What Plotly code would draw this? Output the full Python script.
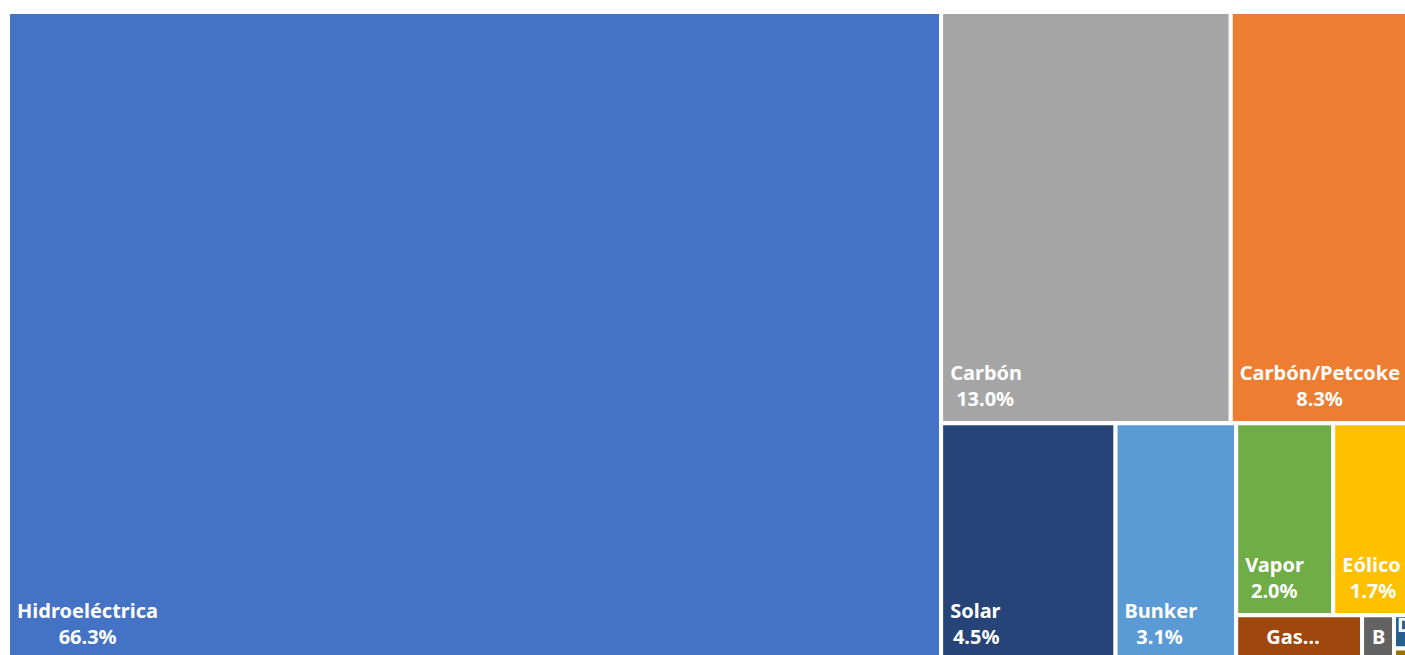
import math
import plotly.graph_objects as go

# ---- data ----
labels = ["Hidroeléctrica", "Carbón", "Carbón/Petcoke", "Solar", "Bunker", "Vapor", "Eólico",
          "Gas Natural", "Biomasa", "Diésel", "Biogás"]
values = [66.3, 13.04, 8.34, 4.54, 3.14, 2.04, 1.74, 0.63, 0.16, 0.08, 0.03]
display = ["Hidroeléctrica", "Carbón", "Carbón/Petcoke", "Solar", "Bunker", "Vapor", "Eólico",
           "Gas…", "B", "D", ""]
show_pct = [True, True, True, True, True, True, True, False, False, False, False]
colors = ["#4472C4", "#A5A5A5", "#ED7D31", "#264478", "#5B9BD5", "#70AD47", "#FFC000",
          "#9E480E", "#636363", "#255E91", "#997300"]
# layout groups (rows/columns of the Excel-style treemap)
leaf_parent = ["", "g_top", "g_top", "g_bottom", "g_bottom", "g_small_top", "g_small_top",
               "g_small_bottom", "g_small_bottom", "g_do", "g_do"]
group_ids = ["g_rest", "g_top", "g_bottom", "g_small", "g_small_top", "g_small_bottom", "g_do"]
group_parent = ["", "g_rest", "g_rest", "g_bottom", "g_small", "g_small", "g_small_bottom"]

# ---- styling ----
FS = 20
LEFT_PAD = 6          # extra px from the tile edge
DESC = 47             # size of trailing spacer that lifts the label off the tile bottom
extra_indent = [0, 0, 0, 0, 0, 0, 0, 21, 1, -6, 0]


def text_width(s):
    w = 0.0
    for ch in s:
        if ch in "0123456789":
            w += 0.572
        elif ch == "%":
            w += 0.88
        elif ch == ".":
            w += 0.29
        elif ch in "il":
            w += 0.30
        elif ch in "rt":
            w += 0.43
        elif ch == "/":
            w += 0.39
        elif ch.isupper():
            w += 0.66
        else:
            w += 0.60
    return w * FS


def spacer(px):
    if px <= 0.5:
        return ""
    k = max(1, math.ceil(px / (0.26 * 28)))
    size = px / (k * 0.26)
    return f"<span style='font-size:{size:.2f}px'>" + "\u00a0" * k + "</span>"


tail = f"<span style='font-size:{DESC}px'>\u00a0</span>"
texts = []
for d, v, sp, ex in zip(display, values, show_pct, extra_indent):
    if not d:
        texts.append("")
        continue
    lines = [d] + ([f"{v:.1f}%"] if sp else [])
    wmax = max(text_width(t) for t in lines)
    out = []
    for t in lines:
        off = LEFT_PAD + ex + (wmax - text_width(t)) / 2
        out.append(spacer(off) + t)
    texts.append("<br>".join(out) + tail)

order_ids = ["Hidroeléctrica", "g_rest", "g_top", "Carbón", "Carbón/Petcoke", "g_bottom",
             "Solar", "Bunker", "g_small", "g_small_top", "Vapor", "Eólico",
             "g_small_bottom", "Gas Natural", "Biomasa", "g_do", "Diésel", "Biogás"]

info = {}
for i, l in enumerate(labels):
    info[l] = dict(parent=leaf_parent[i], value=values[i], text=texts[i], color=colors[i], lw=4)
for g, p in zip(group_ids, group_parent):
    info[g] = dict(parent=p, value=0, text="", color="white", lw=0)

ids = order_ids
fig = go.Figure(go.Treemap(
    ids=ids,
    labels=[i if i in labels else "" for i in ids],
    parents=[info[i]["parent"] for i in ids],
    values=[info[i]["value"] for i in ids],
    text=[info[i]["text"] for i in ids],
    texttemplate="%{text}",
    textposition="bottom left",
    branchvalues="remainder",
    sort=False,
    marker=dict(colors=[info[i]["color"] for i in ids],
                line=dict(color="white", width=[info[i]["lw"] for i in ids]),
                pad=dict(t=0, l=0, r=0, b=0)),
    textfont=dict(family="Noto Sans", size=FS, color="white", weight="bold"),
    tiling=dict(packing="slice-dice", pad=0),
    pathbar=dict(visible=False),
    hoverinfo="label+value",
))
fig.update_layout(
    width=1416, height=661,
    margin=dict(l=8, r=0, t=12, b=0),
    paper_bgcolor="white",
    uniformtext=dict(minsize=FS, mode="show"),
)
fig.write_html("out.html", config={"displayModeBar": False},
               post_script="document.body.style.margin='0';document.body.style.overflow='hidden';")
